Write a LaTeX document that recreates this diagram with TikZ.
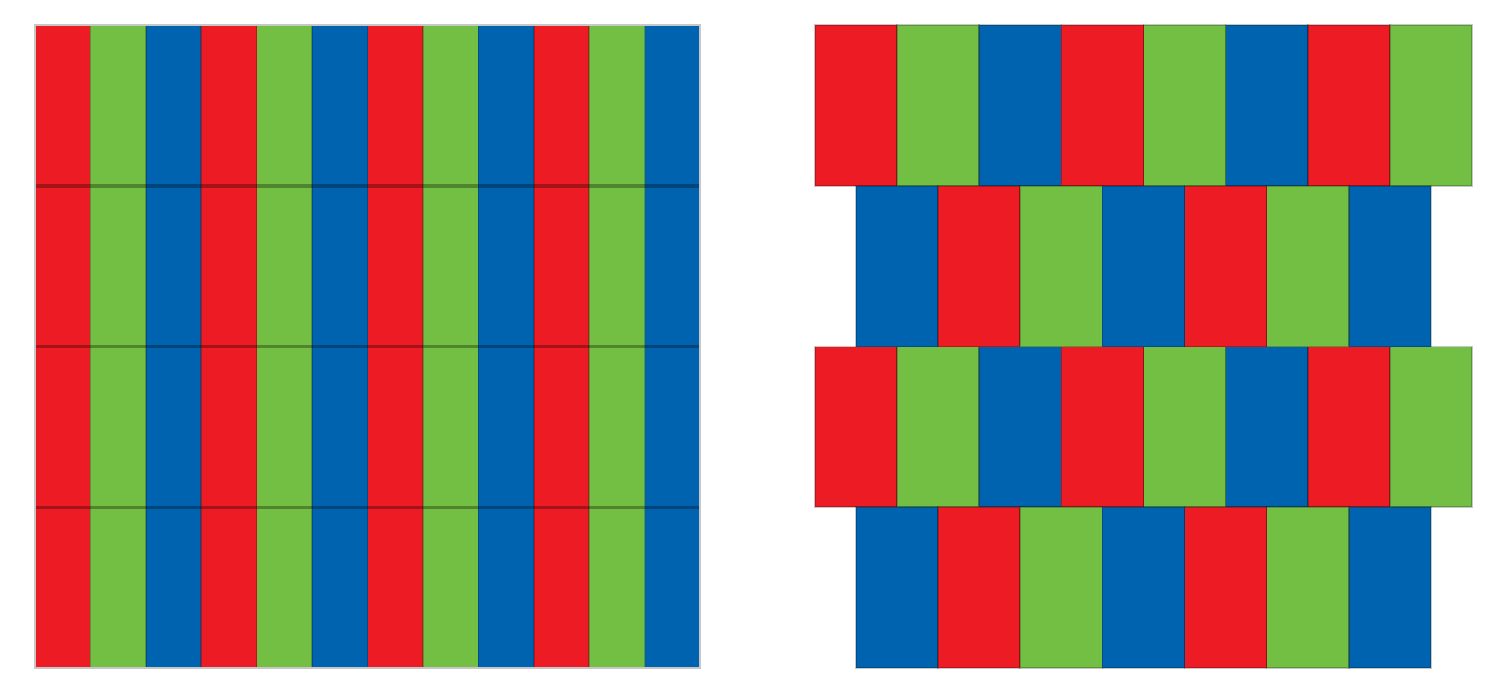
\documentclass[tikz,border=0pt]{standalone}
\definecolor{rosso}{RGB}{237,28,36}
\definecolor{verde}{RGB}{114,191,68}
\definecolor{blu}{RGB}{0,99,175}

\begin{document}
\begin{tikzpicture}[
			x=0.02cm, y=-0.02cm,
			cella/.style={line width=0.9pt, draw=black, draw opacity=0.22},
			riga/.style={line width=2pt, black, opacity=0.3},
			cornice/.style={line width=1.2pt, black!22}]
			\useasboundingbox (0,0) rectangle (1485,687);
			\def\Wl{55.4167}
			\def\Wr{82.125}
			\def\H{160.75}
			
			%% pannello sinistro: strisce verticali
			\foreach \col [count=\i from 0] in {rosso,verde,blu,rosso,verde,blu,rosso,verde,blu,rosso,verde,blu}
				\fill[\col] ({35+\i*\Wl},25) rectangle ({35+(\i+1)*\Wl},668);
			\foreach \i in {1,...,11}
				\draw[line width=0.9pt, black, opacity=0.22] ({35+\i*\Wl},25) -- ({35+\i*\Wl},668);
			
			%% linee tra le righe
			\foreach \r in {1,2,3}
				\draw[riga] (35,{25+\r*\H}) -- (700,{25+\r*\H});
			\draw[cornice] (35,25) rectangle (700,668);
			
			%% pannello destro: righe sfalsate
			\foreach \r in {0,2} {
				\foreach \col [count=\j from 0] in {rosso,verde,blu,rosso,verde,blu,rosso,verde}
					\draw[cella, fill=\col] ({815+\j*\Wr},{25+\r*\H}) rectangle ({815+(\j+1)*\Wr},{25+(\r+1)*\H});
			}
			\foreach \r in {1,3} {
				\foreach \col [count=\j from 0] in {blu,rosso,verde,blu,rosso,verde,blu}
					\draw[cella, fill=\col] ({856+\j*\Wr},{25+\r*\H}) rectangle ({856+(\j+1)*\Wr},{25+(\r+1)*\H});
			}
		\end{tikzpicture}
\end{document}
